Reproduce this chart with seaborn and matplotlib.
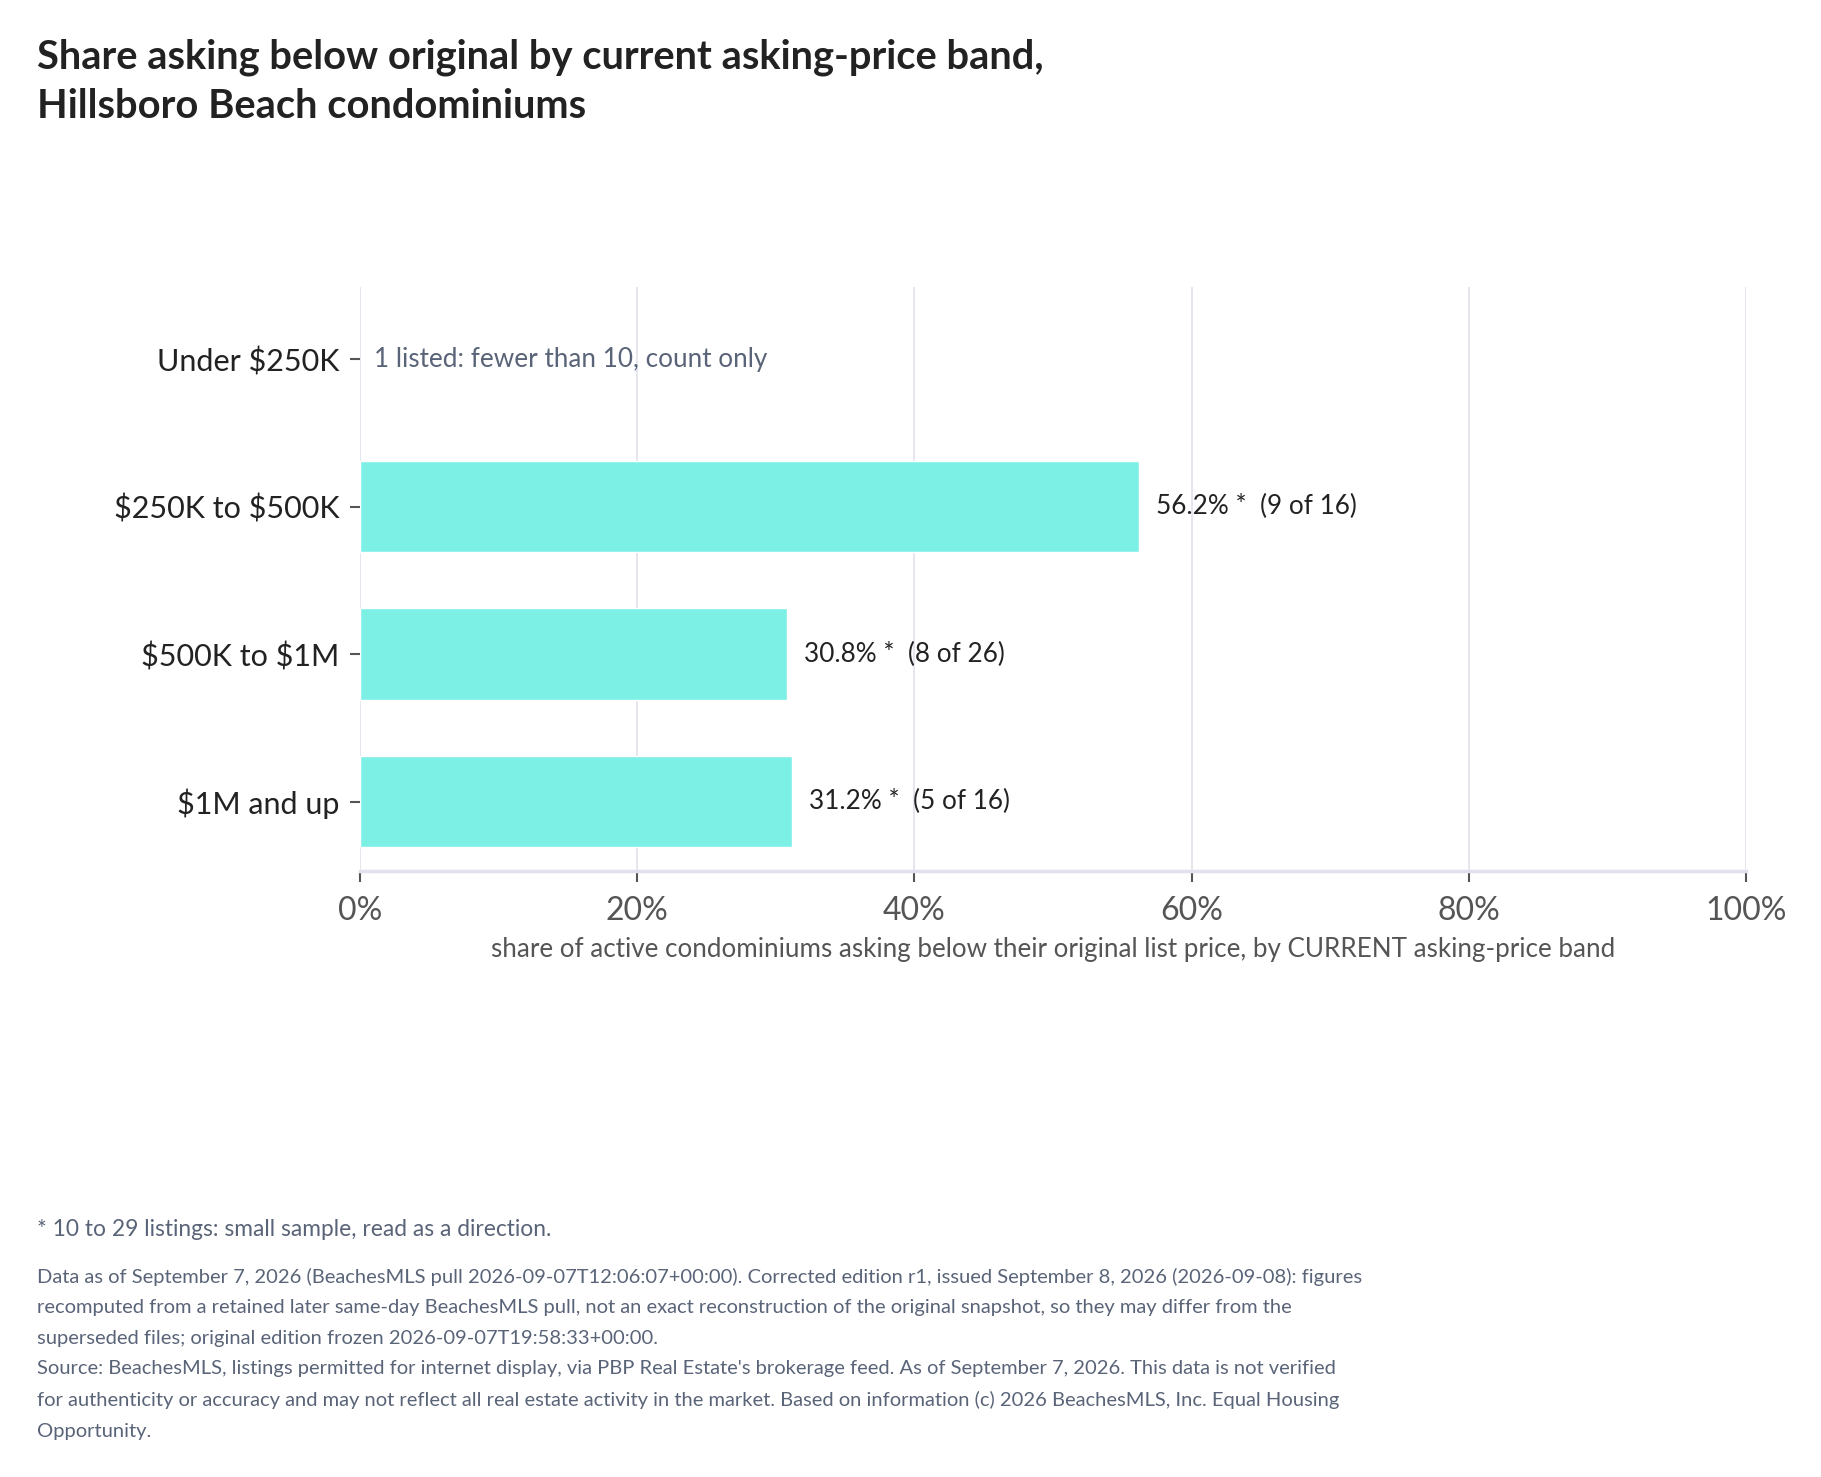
import matplotlib
matplotlib.use("Agg")
import matplotlib.pyplot as plt
import seaborn as sns
import numpy as np
import pandas as pd

# data
bands = ["Under $250K", "$250K to $500K", "$500K to $1M", "$1M and up"]
shares = [None, 56.2, 30.8, 31.2]
below = [None, 9, 8, 5]
listed = [1, 16, 26, 16]
x_ticks = [0, 20, 40, 60, 80, 100]

title = ("Share asking below original by current asking-price band,\n"
         "Hillsboro Beach condominiums")
xlab = "share of active condominiums asking below their original list price, by CURRENT asking-price band"
note = "* 10 to 29 listings: small sample, read as a direction."
source = ("Data as of September 7, 2026 (BeachesMLS pull 2026-09-07T12:06:07+00:00). Corrected edition r1, issued September 8, 2026 (2026-09-08): figures\n"
          "recomputed from a retained later same-day BeachesMLS pull, not an exact reconstruction of the original snapshot, so they may differ from the\n"
          "superseded files; original edition frozen 2026-09-07T19:58:33+00:00.\n"
          "Source: BeachesMLS, listings permitted for internet display, via PBP Real Estate's brokerage feed. As of September 7, 2026. This data is not verified\n"
          "for authenticity or accuracy and may not reflect all real estate activity in the market. Based on information (c) 2026 BeachesMLS, Inc. Equal Housing\n"
          "Opportunity.")

sns.set_style("white")
plt.rcParams['font.family'] = ['Lato', 'DejaVu Sans']
plt.rcParams['text.parse_math'] = False

W, H = 1821, 1477
fig = plt.figure(figsize=(W / 100, H / 100), dpi=100)
ax = fig.add_axes([360 / W, 1 - 871 / H, (1746 - 360) / W, (871 - 287) / H])

df = pd.DataFrame({"band": bands, "share": [s if s is not None else np.nan for s in shares]})
sns.barplot(data=df, x="share", y="band", order=bands, orient="h", color="#7df0e6",
            saturation=1, width=0.62, ax=ax, zorder=2, errorbar=None)

ax.set_xlim(0, 100)
ax.set_ylim(3.47, -0.49)
ax.set_xticks(x_ticks)
ax.set_xticklabels([f"{t}%" for t in x_ticks], fontsize=23, color="#555555")
ax.tick_params(axis="y", left=True, labelsize=22, labelcolor="#222222", length=7,
               color="#555555", width=1.5, pad=8)
ax.tick_params(axis="x", bottom=True, length=8, color="#555555", width=1.5, pad=10, direction="out")
ax.set_ylabel("")
ax.set_xlabel(xlab, fontsize=18.7, color="#555555", labelpad=8)
ax.grid(axis="x", color="#e4e4ee", lw=1.3, zorder=0)
ax.set_axisbelow(True)
for s in ["top", "right", "left"]:
    ax.spines[s].set_visible(False)
ax.spines["bottom"].set_color("#e0e0ee")
ax.spines["bottom"].set_linewidth(2.5)

for i, b in enumerate(bands):
    if shares[i] is None:
        ax.text(1, i, f"{listed[i]} listed: fewer than 10, count only", va="center", ha="left",
                fontsize=18.8, color="#5a6478")
    else:
        ax.text(shares[i] + 1.2, i, f"{shares[i]:.1f}% *  ({below[i]} of {listed[i]})",
                va="center", ha="left", fontsize=18.8, color="#222222")

fig.text(37 / W, 1 - 38 / H, title, fontsize=28.7, fontweight="bold", color="#222222",
         va="top", ha="left", linespacing=1.42)
fig.text(37 / W, 1 - 1230 / H, note, fontsize=16.4, color="#5a6478", va="center", ha="left")
fig.text(37 / W, 1 - 1268 / H, source, fontsize=14.5, color="#5a6478", va="top", ha="left",
         linespacing=1.95)

fig.savefig("out.png", dpi=100)
